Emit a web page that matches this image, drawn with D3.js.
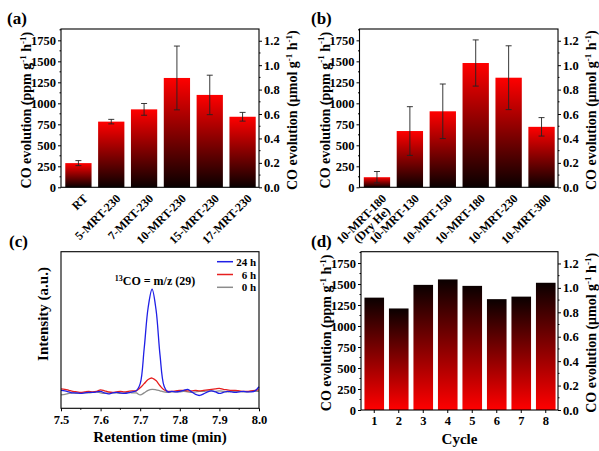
<!DOCTYPE html>
<html><head><meta charset="utf-8">
<script src="https://cdn.jsdelivr.net/npm/d3@7"></script>
<style>
body{margin:0;background:#fff;}
svg text{font-family:"Liberation Serif","Times New Roman",serif;font-weight:bold;fill:#000;}
</style></head>
<body><svg id="c" width="599" height="451"></svg>
<script>
// ---------- data ----------
const catsA = ["RT","5-MRT-230","7-MRT-230","10-MRT-230","15-MRT-230","17-MRT-230"];
const valsA = [288, 782, 928, 1302, 1100, 840];
const errA  = [30, 27, 70, 380, 235, 52];

const catsB = [["10-MRT-180","(Dry He)"],["10-MRT-130"],["10-MRT-150"],["10-MRT-180"],["10-MRT-230"],["10-MRT-300"]];
const valsB = [120, 670, 905, 1480, 1305, 720];
const errB  = [68, 290, 325, 275, 380, 110];

const cycles = ["1","2","3","4","5","6","7","8"];
const valsD  = [1338, 1209, 1490, 1555, 1478, 1320, 1350, 1515];

const leftTicks  = [0,250,500,750,1000,1250,1500,1750];
const rightTicks = [0.0,0.2,0.4,0.6,0.8,1.0,1.2];
const timeTicks  = [7.5,7.6,7.7,7.8,7.9,8.0];

const times = [7.50,7.51,7.52,7.53,7.54,7.55,7.56,7.57,7.58,7.59,7.60,7.61,7.62,7.63,7.64,7.65,7.66,7.67,7.68,7.69,7.70,7.71,7.72,7.73,7.74,7.75,7.76,7.77,7.78,7.79,7.80,7.81,7.82,7.83,7.84,7.85,7.86,7.87,7.88,7.89,7.90,7.91,7.92,7.93,7.94,7.95,7.96,7.97,7.98,7.99,8.00];
const h24 = [1.5,1,0,-1,-1,-1.5,-1,-0.5,-0.5,0,0.5,-1,-2,-1,-0.5,-1,-1.5,-1,0,1,8,42,82,100,80,36,6,0,0.5,0,0.5,1.5,2.5,0,-2.5,-3.5,-2,0,1,0,-1.5,-0.5,0.5,0,-0.5,0,0.5,0,0,1,5];
const h6  = [3,2.5,1.5,0.5,0,-0.5,0,0.5,0,0.5,2,1,0,-0.5,0,0.5,0,0.5,1,1,4,8,12,13.5,11,6,2,0.5,0.5,1,1.5,1.5,1,1,1.5,1,1.5,2,2.5,3,3.5,2.5,2,1.5,1.5,1,0.5,0.5,1,1.5,2];
const h0  = [-3,-2.5,-1.5,-1,-1.5,-1,-1,-1,-0.5,0,-1,-1.5,-1,-1,-1,-1.5,-1,-0.5,-1,-1,-3,-1,1.5,2.5,2,1,0,-0.5,0,0,0,0.5,0,-0.5,0,0.5,0.5,1,1,0.5,1,0.5,0,0.5,0.5,0.5,0,0,0.5,0.5,0.5];
const seriesC = [{name:"24 h",vals:h24,color:"#1f1fe6"},{name:"6 h",vals:h6,color:"#e61f1f"},{name:"0 h",vals:h0,color:"#8c8c8c"}];

const yMax = 1885;
const rightFactor = 1.2/1745;

// ---------- drawing ----------
const svg = d3.select("#c");
const defs = svg.append("defs");
function grad(id, topColor, botColor){
  const g = defs.append("linearGradient").attr("id",id).attr("x1",0).attr("y1",0).attr("x2",0).attr("y2",1);
  g.append("stop").attr("offset","0%").attr("stop-color",topColor);
  g.append("stop").attr("offset","100%").attr("stop-color",botColor);
}
grad("gRedTop","#ff0000","#0a0000");
grad("gBlackTop","#0a0000","#ff0000");

const FS = 12.5;

function titleText(g, x, y, parts){
  const t = g.append("text").attr("transform",`translate(${x},${y}) rotate(-90)`)
    .attr("text-anchor","middle").attr("font-size",14);
  let up=false;
  parts.forEach(p=>{
    const ts = t.append("tspan").text(p.t);
    if(p.s){ ts.attr("font-size",9).attr("dy",-5.5); up=true; }
    else if(up){ ts.attr("dy",5.5); up=false; }
  });
  return t;
}
const leftTitle  = [{t:"CO evolution (ppm g"},{t:"-1",s:1},{t:" h"},{t:"-1",s:1},{t:")"}];
const rightTitle = [{t:"CO evolution (\u03bcmol g"},{t:"-1",s:1},{t:" h"},{t:"-1",s:1},{t:")"}];

function barPanel(o){
  const g = svg.append("g");
  const x = d3.scaleBand().domain(o.cats.map((c,i)=>i)).range([o.x0+1,o.x1]).paddingInner(0.2).paddingOuter(0.1);
  const y = d3.scaleLinear().domain([0,yMax]).range([o.y1,o.y0]);
  const yr = d3.scaleLinear().domain([0,yMax*rightFactor]).range([o.y1,o.y0]);
  g.selectAll("rect.bar").data(o.vals).join("rect")
    .attr("x",(d,i)=>x(i)).attr("width",x.bandwidth())
    .attr("y",d=>y(d)).attr("height",d=>y(0)-y(d))
    .attr("fill",`url(#${o.grad})`);
  if(o.errs){
    const eg = g.selectAll("g.err").data(o.vals).join("g");
    const cx = i=>x(i)+x.bandwidth()/2;
    eg.append("line").attr("x1",(d,i)=>cx(i)).attr("x2",(d,i)=>cx(i))
      .attr("y1",(d,i)=>y(d-o.errs[i])).attr("y2",(d,i)=>y(d+o.errs[i])).attr("stroke","#222").attr("stroke-width",0.9);
    eg.append("line").attr("x1",(d,i)=>cx(i)-3).attr("x2",(d,i)=>cx(i)+3)
      .attr("y1",(d,i)=>y(d+o.errs[i])).attr("y2",(d,i)=>y(d+o.errs[i])).attr("stroke","#222").attr("stroke-width",0.9);
    eg.append("line").attr("x1",(d,i)=>cx(i)-3).attr("x2",(d,i)=>cx(i)+3)
      .attr("y1",(d,i)=>y(d-o.errs[i])).attr("y2",(d,i)=>y(d-o.errs[i])).attr("stroke","#222").attr("stroke-width",0.9);
  }
  const la = g.append("g").attr("transform",`translate(${o.x0},0)`)
    .call(d3.axisLeft(y).tickValues(leftTicks).tickSize(3).tickPadding(2).tickFormat(d3.format("d")));
  const ra = g.append("g").attr("transform",`translate(${o.x1},0)`)
    .call(d3.axisRight(yr).tickValues(rightTicks).tickSize(3).tickPadding(2).tickFormat(d3.format(".1f")));
  const minorL = leftTicks.map(v=>v+125).filter(v=>v<=yMax);
  g.selectAll("line.ml").data(minorL).join("line").attr("x1",o.x0-1.5).attr("x2",o.x0).attr("y1",d=>y(d)).attr("y2",d=>y(d)).attr("stroke","#000");
  const minorR = [0.1,0.3,0.5,0.7,0.9,1.1];
  g.selectAll("line.mr").data(minorR).join("line").attr("x1",o.x1).attr("x2",o.x1+1.5).attr("y1",d=>yr(d)).attr("y2",d=>yr(d)).attr("stroke","#000");
  [la,ra].forEach(a=>{a.select(".domain").remove(); a.attr("font-family",null); a.selectAll("text").attr("font-size",FS); a.selectAll("line").attr("stroke-width",1);});
  g.append("rect").attr("x",o.x0).attr("y",o.y0).attr("width",o.x1-o.x0).attr("height",o.y1-o.y0)
    .attr("fill","none").attr("stroke","#000").attr("stroke-width",1.1);
  if(o.rotLabels){
    o.cats.forEach((c,i)=>{
      const cx = x(i)+x.bandwidth()/2;
      const lines = Array.isArray(c)?c:[c];
      const t = g.append("text").attr("transform",`translate(${cx+4},${o.y1+6}) rotate(-45)`)
        .attr("text-anchor","end").attr("font-size",FS-0.5);
      lines.forEach((l,k)=>{
        t.append("tspan").attr("x",k? -6:0).attr("dy",k?"0.95em":"0.7em").text(l);
      });
    });
  } else {
    const xa = g.append("g").attr("transform",`translate(0,${o.y1})`)
      .call(d3.axisBottom(x).tickFormat(i=>o.cats[i]).tickSize(3).tickPadding(3));
    xa.select(".domain").remove(); xa.attr("font-family",null);
    xa.selectAll("text").attr("font-size",FS);
    if(o.xTitle) g.append("text").attr("x",(o.x0+o.x1)/2).attr("y",o.y1+34).attr("text-anchor","middle").attr("font-size",15).text(o.xTitle);
  }
  titleText(g, o.x0-30, (o.y0+o.y1)/2 + 2, leftTitle);
  titleText(g, o.x1+38, (o.y0+o.y1)/2 + 2, rightTitle);
  g.append("text").attr("x",o.lx).attr("y",o.ly).attr("font-size",17).text(o.label);
}

barPanel({cats:catsA, vals:valsA, errs:errA, x0:61, x1:259, y0:29, y1:187.3, grad:"gRedTop", rotLabels:true, label:"(a)", lx:7, ly:24});
barPanel({cats:catsB, vals:valsB, errs:errB, x0:359.5, x1:558, y0:29, y1:187.3, grad:"gRedTop", rotLabels:true, label:"(b)", lx:311, ly:24});
barPanel({cats:cycles, vals:valsD, errs:null, x0:361, x1:558, y0:251.7, y1:410, grad:"gBlackTop", rotLabels:false, xTitle:"Cycle", label:"(d)", lx:311, ly:247});

// ---------- panel c ----------
(function(){
  const x0=61,x1=259,y0=251.7,y1=408.3;
  const g = svg.append("g");
  const x = d3.scaleLinear().domain([7.5,8.0]).range([x0,x1]);
  const y = d3.scaleLinear().domain([-16,136.6]).range([y1,y0]);
  const line = d3.line().x((d,i)=>x(times[i])).y(d=>y(d)).curve(d3.curveCatmullRom);
  [seriesC[2],seriesC[1],seriesC[0]].forEach(s=>{
    g.append("path").attr("d",line(s.vals)).attr("fill","none").attr("stroke",s.color).attr("stroke-width",1.3);
  });
  const xa = g.append("g").attr("transform",`translate(0,${y1})`)
    .call(d3.axisBottom(x).tickValues(timeTicks).tickFormat(d3.format(".1f")).tickSize(3).tickPadding(4));
  xa.select(".domain").remove(); xa.attr("font-family",null); xa.selectAll("text").attr("font-size",FS);
  const minor = [7.55,7.65,7.75,7.85,7.95];
  g.selectAll("line.mn").data(minor).join("line").attr("x1",d=>x(d)).attr("x2",d=>x(d)).attr("y1",y1).attr("y2",y1+1.5).attr("stroke","#000");
  g.append("rect").attr("x",x0).attr("y",y0).attr("width",x1-x0).attr("height",y1-y0)
    .attr("fill","none").attr("stroke","#000").attr("stroke-width",1.1);
  g.append("text").attr("x",(x0+x1)/2).attr("y",442).attr("text-anchor","middle").attr("font-size",15).text("Retention time (min)");
  g.append("text").attr("transform",`translate(48,314) rotate(-90)`).attr("text-anchor","middle").attr("font-size",15).text("Intensity (a.u.)");
  seriesC.forEach((s,i)=>{
    const ly = 261.7 + i*12.8;
    g.append("line").attr("x1",217).attr("x2",233).attr("y1",ly).attr("y2",ly).attr("stroke",s.color).attr("stroke-width",1.5);
    g.append("text").attr("x",256).attr("y",ly+4).attr("text-anchor","end").attr("font-size",11).text(s.name);
  });
  const at = g.append("text").attr("x",155).attr("y",285).attr("text-anchor","middle").attr("font-size",12);
  at.append("tspan").attr("font-size",8).attr("dy",-4).text("13");
  at.append("tspan").attr("dy",4).text("CO = m/z (29)");
  g.append("text").attr("x",9).attr("y",247).attr("font-size",17).text("(c)");
})();
</script></body></html>
